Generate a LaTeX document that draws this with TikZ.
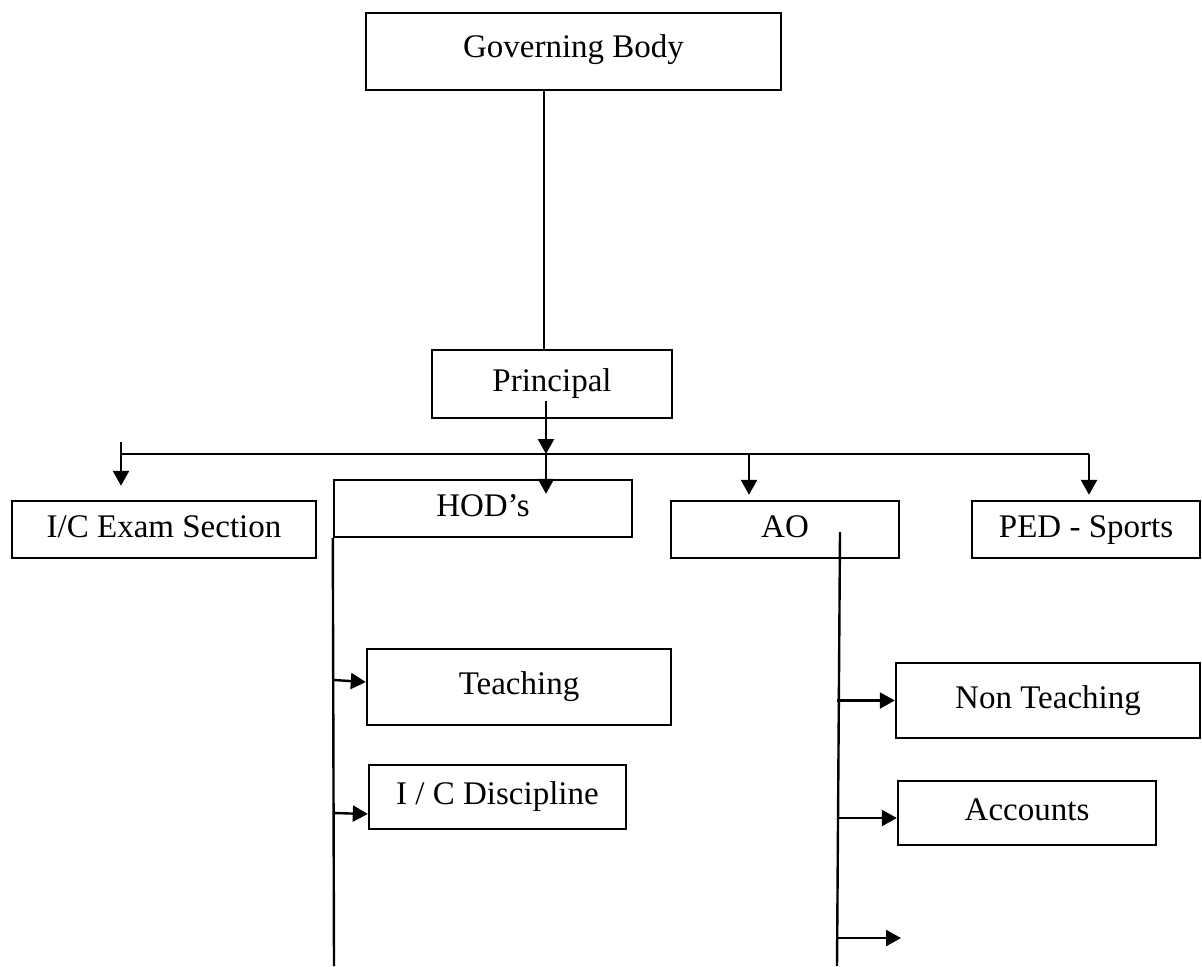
\documentclass[tikz,border=0pt]{standalone}
\usepackage{fontspec}
\setmainfont{Liberation Serif}
\usetikzlibrary{arrows.meta,positioning}
\tikzset{
  doboz/.style={draw,line width=1.2pt,inner sep=0pt,align=center,text height=11.3pt,text depth=3.6pt},
  vonal/.style={line width=1.2pt},
  nyil/.style={line width=1.2pt,-{Triangle[width=8pt,length=7.5pt]}},
}

\begin{document}
\begin{tikzpicture}[x=0.5pt,y=-0.5pt,font=\fontsize{16.5}{19.8}\selectfont]
  \useasboundingbox (0,0) rectangle (1202,966);
  % dobozok
  \node[doboz,minimum width=207.5pt,minimum height=38.5pt,text depth=5.5pt] (gb) at (573.5,51.5) {Governing Body};
  \node[doboz,minimum width=120pt,minimum height=34pt] (prin) at (552,384) {Principal};
  \node[doboz,minimum width=152pt,minimum height=28.5pt] (exam) at (164,529.5) {I/C Exam Section};
  \node[doboz,minimum width=149pt,minimum height=28.5pt] (hod) at (483,508.5) {HOD’s};
  \node[doboz,minimum width=114pt,minimum height=28.5pt] (ao) at (785,529.5) {AO};
  \node[doboz,minimum width=114pt,minimum height=28.5pt] (ped) at (1086,529.5) {PED - Sports};
  \node[doboz,minimum width=152pt,minimum height=38pt] (teach) at (519,687) {Teaching};
  \node[doboz,minimum width=128.5pt,minimum height=32pt] (disc) at (497.5,797) {I / C Discipline};
  \node[doboz,minimum width=152pt,minimum height=37.5pt] (nonteach) at (1048,700.5) {Non Teaching};
  \node[doboz,minimum width=129pt,minimum height=32pt] (acc) at (1027,813) {Accounts};
  % gyujtosin
  \coordinate (bL) at (121,454);
  \coordinate (bP) at (546,454);
  \coordinate (bA) at (749,454);
  \coordinate (bR) at (1089,454);
  \coordinate (hodEnd) at (334,966);
  \coordinate (aoTop) at (840,532);
  \coordinate (aoEnd) at (837,966);
  \coordinate (ures) at (901,938);
  % vonalak
  \draw[vonal] ([xshift=-14.75pt]gb.south) -- ([xshift=-4pt]prin.north);
  \draw[nyil] ([xshift=-3pt,yshift=9pt]prin.south) -- (bP);
  \draw[vonal] (bL) -- (bR);
  \draw[nyil] ([yshift=6pt]bL) -- ([yshift=7pt]exam.north -| bL);
  \draw[nyil] (bP) -- ([yshift=-7.5pt]hod.north -| bP);
  \draw[nyil] (bA) -- ([yshift=2.5pt]ao.north -| bA);
  \draw[nyil] (bR) -- ([yshift=2.5pt]ped.north -| bR);
  % HOD ag
  \draw[vonal] (hod.south west) -- (hodEnd);
  \draw[nyil] (hodEnd |- teach.west) ++(0,-7) -- ([yshift=2.5pt]teach.west);
  \draw[nyil] (hodEnd |- disc.west) ++(0,16) -- ([yshift=-8.5pt]disc.west);
  % AO ag
  \draw[vonal] (aoTop) -- (aoEnd);
  \draw[nyil] (aoEnd |- nonteach.west) -- (nonteach.west);
  \draw[nyil] (aoEnd |- acc.west) ++(0,5) -- ([yshift=-2.5pt]acc.west);
  \draw[nyil] (aoEnd |- ures) -- (ures);
\end{tikzpicture}
\end{document}
